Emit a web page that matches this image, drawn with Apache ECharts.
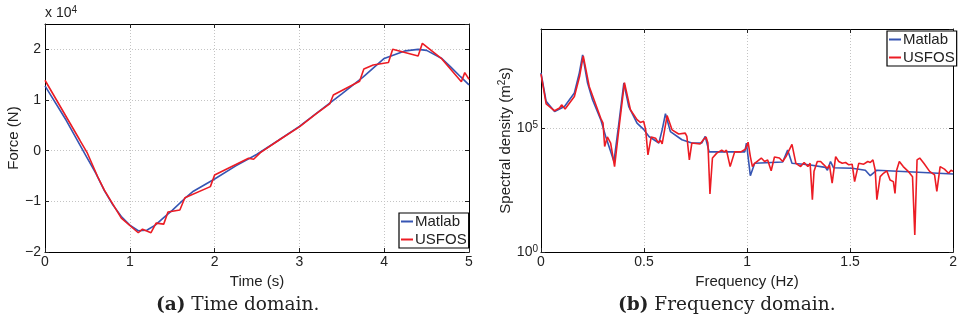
<!DOCTYPE html>
<html>
<head>
<meta charset="utf-8">
<script src="https://cdn.jsdelivr.net/npm/echarts@6/dist/echarts.min.js"></script>
<style>
  html, body { margin: 0; padding: 0; background: #fff; }
  #chart { width: 960px; height: 322px; }
</style>
</head>
<body>
<div id="chart"></div>
<script>
// (a) time domain, force in units of 1e4 N
const timeMatlab = [0, 0.25, 0.5, 0.6, 0.7, 0.8, 0.9, 1.0, 1.1, 1.2, 1.3, 1.4, 1.5, 1.67, 1.75, 2.0, 2.25, 2.5, 2.75, 3.0, 3.25, 3.5, 3.75, 4.0, 4.25, 4.4, 4.5, 4.68, 4.78, 4.9, 5.0]
const forceMatlab = [1.28, 0.6, -0.15, -0.45, -0.79, -1.07, -1.30, -1.47, -1.58, -1.57, -1.47, -1.32, -1.18, -0.91, -0.80, -0.56, -0.30, -0.07, 0.20, 0.48, 0.80, 1.12, 1.45, 1.82, 1.97, 2.0, 1.98, 1.82, 1.66, 1.46, 1.30]

const timeUsfos = [0, 0.41, 0.5, 0.62, 0.7, 0.9, 1.10, 1.15, 1.25, 1.31, 1.40, 1.45, 1.59, 1.65, 1.95, 2.00, 2.40, 2.46, 2.54, 2.77, 3.0, 3.2, 3.36, 3.40, 3.71, 3.76, 3.87, 4.05, 4.10, 4.40, 4.45, 4.68, 4.91, 4.95, 5.0]
const forceUsfos = [1.39, 0.21, -0.05, -0.51, -0.78, -1.33, -1.62, -1.55, -1.62, -1.43, -1.45, -1.21, -1.17, -0.93, -0.71, -0.48, -0.15, -0.17, -0.04, 0.22, 0.47, 0.73, 0.93, 1.10, 1.37, 1.61, 1.69, 1.74, 2.00, 1.87, 2.12, 1.81, 1.36, 1.54, 1.41]

// (b) frequency domain, spectral density (m^2 s)
const freqMatlab = [0, 0.025, 0.066, 0.114, 0.162, 0.186, 0.202, 0.226, 0.25, 0.29, 0.314, 0.354, 0.378, 0.402, 0.426, 0.466, 0.498, 0.524, 0.572, 0.588, 0.604, 0.628, 0.684, 0.732, 0.78, 0.797, 0.816, 0.877, 0.989, 0.997, 1.016, 1.037, 1.173, 1.197, 1.218, 1.30, 1.38, 1.39, 1.405, 1.42, 1.51, 1.574, 1.598, 1.63, 1.806, 2.0]
const psdMatlab = [1.7e7, 1.2e6, 4.7e5, 7.4e5, 2.6e6, 1.7e7, 9.1e7, 6.6e6, 1.4e6, 2.2e5, 4.6e4, 4.5e3, 1.6e5, 6.6e6, 7.4e5, 1.6e5, 8.9e4, 4.6e4, 2.5e4, 8.5e4, 3.8e5, 7.2e4, 3.4e4, 2.5e4, 2.5e4, 4.6e4, 1.1e4, 1.1e4, 1.1e4, 2.5e4, 1.2e3, 3.8e3, 4.3e3, 1.3e4, 3.8e3, 3.3e3, 2.6e3, 2.0e3, 4.5e3, 2.5e3, 2.4e3, 2.0e3, 1.2e3, 2.0e3, 1.7e3, 1.4e3]

const freqUsfos = [0, 0.025, 0.066, 0.09, 0.10, 0.117, 0.162, 0.188, 0.205, 0.234, 0.29, 0.301, 0.309, 0.322, 0.338, 0.357, 0.38, 0.405, 0.434, 0.466, 0.482, 0.498, 0.508, 0.519, 0.535, 0.556, 0.569, 0.58, 0.588, 0.612, 0.636, 0.668, 0.70, 0.708, 0.72, 0.732, 0.772, 0.788, 0.801, 0.81, 0.82, 0.832, 0.853, 0.877, 0.89, 0.90, 0.918, 0.94, 0.97, 0.992, 1.005, 1.016, 1.026, 1.037, 1.069, 1.085, 1.10, 1.117, 1.133, 1.157, 1.173, 1.189, 1.218, 1.237, 1.26, 1.277, 1.295, 1.306, 1.317, 1.325, 1.341, 1.357, 1.373, 1.389, 1.40, 1.413, 1.43, 1.445, 1.462, 1.478, 1.494, 1.51, 1.522, 1.542, 1.566, 1.586, 1.598, 1.611, 1.622, 1.63, 1.646, 1.662, 1.678, 1.694, 1.71, 1.718, 1.726, 1.739, 1.758, 1.782, 1.79, 1.803, 1.814, 1.825, 1.838, 1.858, 1.886, 1.91, 1.921, 1.937, 1.958, 1.978, 1.99, 2.0]
const psdUsfos = [1.5e7, 9.5e5, 5.0e5, 6.5e5, 8.7e5, 5.9e5, 1.9e6, 1.3e7, 8.3e7, 4.8e6, 2.5e5, 1.6e5, 1.8e4, 4.4e4, 2.5e4, 2.8e3, 1.3e5, 6.9e6, 5.5e5, 2.2e5, 1.7e5, 1.9e5, 8.5e4, 8.3e3, 4.4e4, 3.9e4, 2.6e4, 3.2e4, 2.3e4, 3.2e5, 8.5e4, 5.8e4, 6.3e4, 4.6e4, 5.2e3, 2.5e4, 2.3e4, 3.4e4, 4.4e4, 2.5e4, 2.2e2, 6.2e3, 9.8e3, 1.3e4, 1.1e4, 1.3e4, 2.8e3, 1.1e4, 1.1e4, 1.4e4, 2.7e4, 7.1e3, 2.8e3, 3.8e3, 6.2e3, 4.5e3, 5.2e3, 1.9e3, 6.8e3, 6.2e3, 4.5e3, 7.1e3, 2.2e4, 3.8e3, 2.8e3, 4.1e3, 2.8e3, 3.8e3, 1.3e2, 1.8e3, 4.5e3, 4.5e3, 3.3e3, 2.4e3, 3.2e3, 6.0e2, 7.1e3, 4.5e3, 3.8e3, 4.1e3, 3.3e3, 3.5e3, 6.9e2, 3.8e3, 3.5e3, 4.5e3, 4.1e3, 5.2e3, 2.0e3, 1.3e2, 1.1e3, 1.5e3, 1.9e3, 8.1e2, 6.9e2, 2.3e2, 2.0e3, 4.5e3, 2.8e3, 1.8e3, 2.0e3, 1.1e3, 4.9, 5.2e3, 6.2e3, 3.8e3, 1.8e3, 1.3e3, 2.8e2, 2.8e3, 2.2e3, 1.5e3, 2.0e3, 1.8e3]

const seriesNames = ['Matlab', 'USFOS']
const blue = '#3655b3'
const red = '#ec1c24'
const sans = 'Liberation Sans'

const pairs = (xs, ys) => xs.map((x, i) => [x, ys[i]])

const gridLine = { show: true, lineStyle: { color: '#c4c4c4', type: [1, 2], width: 1 } }
const frame = { show: true, onZero: false, lineStyle: { color: '#000', width: 1 } }
const tickIn = { show: true, inside: true, length: 4, lineStyle: { color: '#222' } }
const labelStyle = { color: '#222', fontFamily: sans, fontSize: 14 }
const nameStyle = { color: '#222', fontFamily: sans, fontSize: 15 }
const sup = { fontSize: 10, fontFamily: sans, color: '#222', verticalAlign: 'top', lineHeight: 16 }

const minus = v => (v < 0 ? '\u2212' + Math.abs(v) : String(v))
const logLabel = v => {
    const e = Math.round(Math.log10(v))
    return (e === 0 || e === 5) ? '10{sup|' + e + '}' : ''
}

// mirror axis (top / right) with ticks only
const mirror = (base) => Object.assign({}, base, {
    axisLabel: { show: false },
    splitLine: { show: false },
    name: ''
})

const xTime = {
    type: 'value', gridIndex: 0, position: 'bottom', min: 0, max: 5, interval: 1,
    axisLine: frame, axisTick: tickIn, splitLine: gridLine,
    axisLabel: Object.assign({ margin: 3 }, labelStyle),
    name: 'Time (s)', nameLocation: 'middle', nameGap: 15, nameTextStyle: nameStyle
}
const xFreq = {
    type: 'value', gridIndex: 1, position: 'bottom', min: 0, max: 2, interval: 0.5,
    axisLine: frame, axisTick: tickIn, splitLine: gridLine,
    axisLabel: Object.assign({ margin: 3 }, labelStyle),
    name: 'Frequency (Hz)', nameLocation: 'middle', nameGap: 15, nameTextStyle: nameStyle
}
const yForce = {
    type: 'value', gridIndex: 0, position: 'left', min: -2, max: 2.5, interval: 1,
    axisLine: frame, axisTick: tickIn, splitLine: gridLine,
    axisLabel: Object.assign({ margin: 4, showMaxLabel: false, formatter: minus }, labelStyle),
    name: 'Force (N)', nameLocation: 'middle', nameRotate: 90, nameGap: 20, nameTextStyle: nameStyle
}
const yPsd = {
    type: 'log', logBase: 10, gridIndex: 1, position: 'left', min: 1, max: 1e9, interval: 5,
    axisLine: frame, axisTick: tickIn, splitLine: gridLine,
    axisLabel: Object.assign({ margin: 3, showMaxLabel: false, formatter: logLabel, rich: { sup: sup } }, labelStyle),
    name: 'Spectral density (m{sup|2}s)', nameLocation: 'middle', nameRotate: 90, nameGap: 18,
    nameTextStyle: Object.assign({ rich: { sup: sup } }, nameStyle)
}

const legendBox = (left, top) => ({
    data: seriesNames, orient: 'vertical', left: left, top: top,
    icon: 'rect', itemWidth: 12, itemHeight: 2, itemGap: 3,
    padding: [1, 2, 1, 2], borderColor: '#000', borderWidth: 1.2, backgroundColor: '#fff',
    textStyle: { color: '#222', fontFamily: sans, fontSize: 15, padding: [0, 0, 0, -3] },
    selectedMode: false
})

const line = (name, color, xi, yi, data) => ({
    name: name, type: 'line', xAxisIndex: xi, yAxisIndex: yi,
    showSymbol: false, symbol: 'none', animation: false,
    lineStyle: { color: color, width: 1.6 }, itemStyle: { color: color },
    data: data
})

const captionRich = { b: { fontWeight: 'bold', fontFamily: 'DejaVu Serif', fontSize: 18.5 } }

const option = {
    backgroundColor: '#fff',
    animation: false,
    grid: [
        { left: 45, top: 24, width: 424, height: 228 },
        { left: 541, top: 29, width: 416, height: 223 }
    ],
    xAxis: [
        xTime,
        mirror(Object.assign({}, xTime, { position: 'top' })),
        xFreq,
        mirror(Object.assign({}, xFreq, { position: 'top' }))
    ],
    yAxis: [
        yForce,
        mirror(Object.assign({}, yForce, { position: 'right' })),
        yPsd,
        mirror(Object.assign({}, yPsd, { position: 'right' }))
    ],
    legend: [legendBox(399, 213), legendBox(887, 31)],
    series: [
        line('Matlab', blue, 0, 0, pairs(timeMatlab, forceMatlab)),
        line('USFOS', red, 0, 0, pairs(timeUsfos, forceUsfos)),
        line('Matlab', blue, 2, 2, pairs(freqMatlab, psdMatlab)),
        line('USFOS', red, 2, 2, pairs(freqUsfos, psdUsfos))
    ],
    graphic: [
        {
            type: 'text', left: 45, top: 5,
            style: {
                text: 'x 10{sup|4}', fill: '#222', font: '14px "Liberation Sans"',
                rich: { sup: sup }
            }
        },
        {
            type: 'text', left: 156, top: 296,
            style: {
                text: '{b|(a)} Time domain.', fill: '#222', font: '18.5px "DejaVu Serif"',
                rich: captionRich
            }
        },
        {
            type: 'text', left: 618, top: 296,
            style: {
                text: '{b|(b)} Frequency domain.', fill: '#222', font: '18.5px "DejaVu Serif"',
                rich: captionRich
            }
        }
    ]
}

const chart = echarts.init(document.getElementById('chart'), null, { renderer: 'canvas' })
chart.setOption(option)
</script>
</body>
</html>
